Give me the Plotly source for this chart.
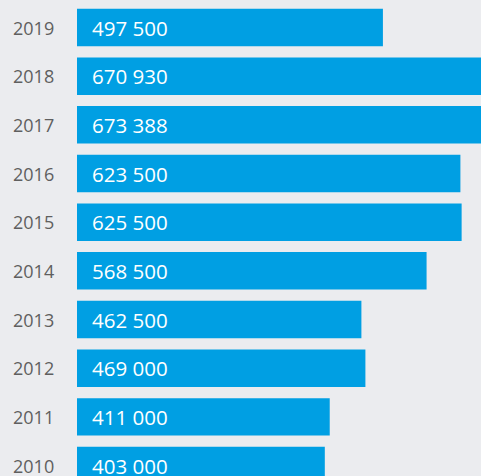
import plotly.graph_objects as go

years = [2019, 2018, 2017, 2016, 2015, 2014, 2013, 2012, 2011, 2010]
values = [497500, 670930, 673388, 623500, 625500, 568500, 462500, 469000, 411000, 403000]
labels = ["497 500", "670 930", "673 388", "623 500", "625 500", "568 500",
          "462 500", "469 000", "411 000", "403 000"]

bar_color = "#009fe3"
bg = "#ebecef"

fig = go.Figure()
fig.add_trace(go.Bar(
    x=values, y=years, orientation="h",
    marker=dict(color=bar_color, line=dict(width=0)),
    width=0.77, hoverinfo="skip",
))

for y, lab in zip(years, labels):
    fig.add_annotation(
        x=0, y=y, xref="x", yref="y", text=lab, showarrow=False,
        xanchor="left", yanchor="middle", xshift=13,
        font=dict(family="Open Sans", size=20.5, color="white"),
    )
    fig.add_annotation(
        x=0, y=y, xref="paper", yref="y", text=str(y), showarrow=False,
        xanchor="right", yanchor="middle", xshift=-21,
        font=dict(family="Open Sans", size=18, color="#5f5f5f"),
    )

fig.update_layout(
    width=481, height=476,
    margin=dict(l=77, r=0, t=0, b=0),
    paper_bgcolor=bg, plot_bgcolor=bg,
    showlegend=False,
    xaxis=dict(range=[0, 657000], showgrid=False, zeroline=False,
               showticklabels=False, ticks=""),
    yaxis=dict(range=[2009.785, 2019.565], showgrid=False, zeroline=False,
               showticklabels=False, ticks=""),
)

fig.write_html("out.html")
